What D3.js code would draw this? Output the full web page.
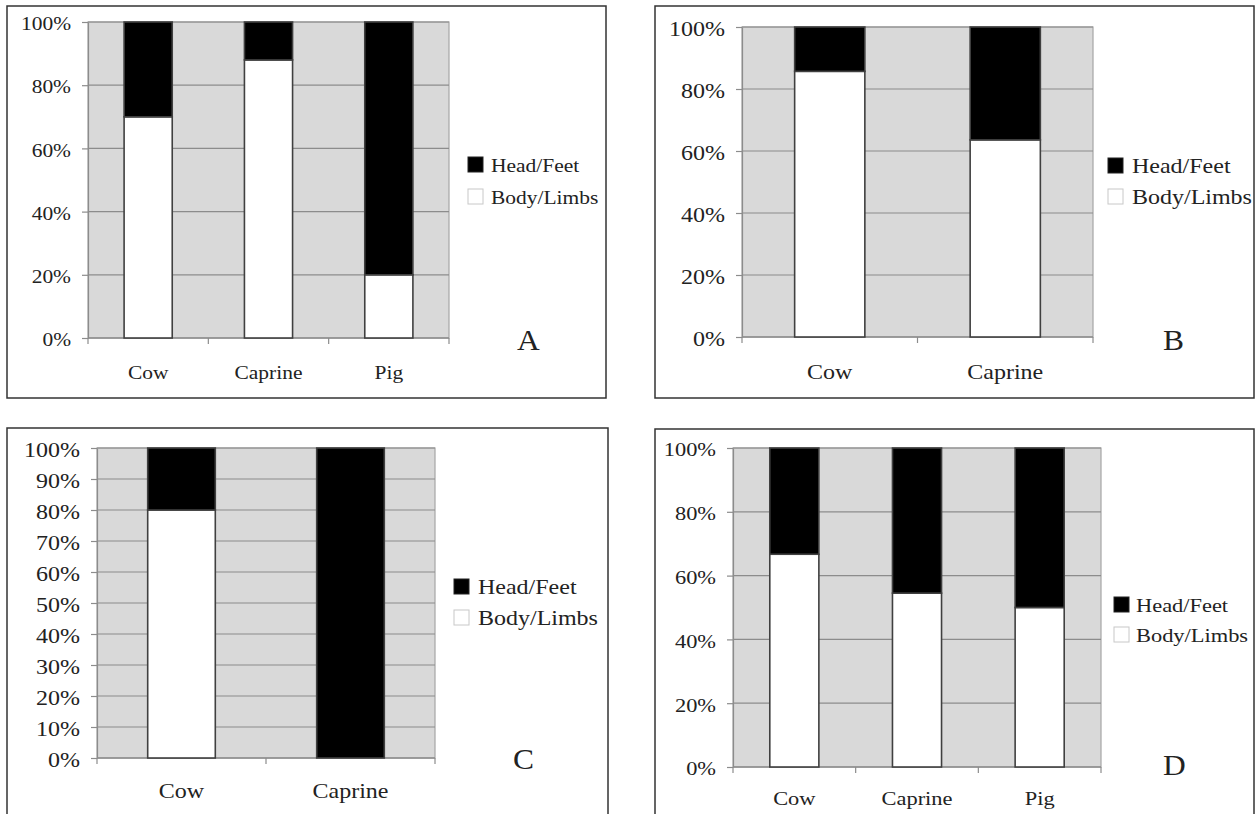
<!DOCTYPE html>
<html>
<head>
<meta charset="utf-8">
<script src="https://cdn.jsdelivr.net/npm/d3@7/dist/d3.min.js"></script>
<style>
  html, body { margin: 0; padding: 0; background: #fff; }
  svg { display: block; }
  text { font-family: "Liberation Serif", "Times New Roman", serif; fill: #222; }
</style>
</head>
<body>
<svg id="chart" width="1256" height="814"></svg>
<script>
// ---------------- data ----------------
const seriesNames = ["Head/Feet", "Body/Limbs"];
const panelLetters = ["A", "B", "C", "D"];

const categoriesA = ["Cow", "Caprine", "Pig"];
const bodyA = [70, 88, 20];
const headA = [30, 12, 80];

const categoriesB = ["Cow", "Caprine"];
const bodyB = [85.7, 63.6];
const headB = [14.3, 36.4];

const categoriesC = ["Cow", "Caprine"];
const bodyC = [80, 0];
const headC = [20, 100];

const categoriesD = ["Cow", "Caprine", "Pig"];
const bodyD = [66.7, 54.5, 50];
const headD = [33.3, 45.5, 50];

const ticks20 = [0, 20, 40, 60, 80, 100];
const ticks10 = [0, 10, 20, 30, 40, 50, 60, 70, 80, 90, 100];

// ---------------- layout ----------------
const panels = [
  { letter: panelLetters[0], cats: categoriesA, body: bodyA, head: headA, ticks: ticks20,
    frame: [7, 6, 606, 398], plot: [88, 22, 449, 338], fs: 19, sx: 1.13,
    xLabelY: 379, legX: 468, legY: 157, legGap: 32, legTextX: 491, letterX: 517, letterY: 350 },
  { letter: panelLetters[1], cats: categoriesB, body: bodyB, head: headB, ticks: ticks20,
    frame: [655, 6, 1254, 398], plot: [742, 27, 1093, 337], fs: 20, sx: 1.2,
    xLabelY: 379, legX: 1108, legY: 158, legGap: 31, legTextX: 1132, letterX: 1163, letterY: 350 },
  { letter: panelLetters[2], cats: categoriesC, body: bodyC, head: headC, ticks: ticks10,
    frame: [7, 428, 608, 830], plot: [97, 448, 435, 758], fs: 20, sx: 1.2,
    xLabelY: 798, legX: 454, legY: 579, legGap: 31, legTextX: 478, letterX: 513, letterY: 769 },
  { letter: panelLetters[3], cats: categoriesD, body: bodyD, head: headD, ticks: ticks20,
    frame: [655, 429, 1254, 830], plot: [733, 448, 1101, 767], fs: 19.5, sx: 1.15,
    xLabelY: 805, legX: 1114, legY: 597, legGap: 30, legTextX: 1136, letterX: 1163, letterY: 775 }
];

const svg = d3.select("#chart");

function scaledText(g, x, y, str, opts) {
  const t = g.append("g").attr("transform", `translate(${x},${y}) scale(${opts.sx},1)`)
    .append("text")
    .attr("x", 0).attr("y", 0)
    .attr("text-anchor", opts.anchor || "start")
    .style("font-size", opts.fs + "px")
    .text(str);
  if (opts.baseline) t.attr("dominant-baseline", opts.baseline);
  return t;
}

panels.forEach(p => {
  const g = svg.append("g");
  const [fx0, fy0, fx1, fy1] = p.frame;
  const [px0, py0, px1, py1] = p.plot;

  // outer frame
  g.append("rect")
    .attr("x", fx0).attr("y", fy0)
    .attr("width", fx1 - fx0).attr("height", fy1 - fy0)
    .attr("fill", "#fff").attr("stroke", "#333").attr("stroke-width", 1.5);

  const x = d3.scaleBand().domain(p.cats).range([px0, px1]).paddingInner(0.6).paddingOuter(0.3);
  const y = d3.scaleLinear().domain([0, 100]).range([py1, py0]);

  // plot background
  g.append("rect")
    .attr("x", px0).attr("y", py0)
    .attr("width", px1 - px0).attr("height", py1 - py0)
    .attr("fill", "#d9d9d9").attr("stroke", "#a6a6a6").attr("stroke-width", 1.2);

  // gridlines
  g.append("g").selectAll("line").data(p.ticks.filter(t => t > 0)).join("line")
    .attr("x1", px0).attr("x2", px1)
    .attr("y1", d => y(d)).attr("y2", d => y(d))
    .attr("stroke", "#8c8c8c").attr("stroke-width", 1.2);

  // y axis
  const yAxis = g.append("g").attr("transform", `translate(${px0},0)`)
    .call(d3.axisLeft(y).tickValues(p.ticks).tickSize(6).tickSizeOuter(0).tickFormat(d => d + "%"));
  yAxis.select(".domain").attr("stroke", "#8c8c8c").attr("stroke-width", 1.2);
  yAxis.selectAll(".tick line").attr("stroke", "#8c8c8c").attr("stroke-width", 1.2);
  yAxis.selectAll(".tick text")
    .attr("x", -(px0 - (p.plot[0] - 17)) / p.sx)
    .attr("dy", "0.4em")
    .attr("transform", `scale(${p.sx},1)`)
    .style("font-size", p.fs + "px")
    .style("font-family", '"Liberation Serif", "Times New Roman", serif')
    .attr("fill", "#222");

  // x axis line with boundary ticks
  g.append("line").attr("x1", px0).attr("x2", px1).attr("y1", py1).attr("y2", py1)
    .attr("stroke", "#8c8c8c").attr("stroke-width", 1.4);
  const step = x.step();
  const bounds = d3.range(p.cats.length + 1).map(i => px0 + i * step);
  g.append("g").selectAll("line").data(bounds).join("line")
    .attr("x1", d => d).attr("x2", d => d)
    .attr("y1", py1).attr("y2", py1 + 6)
    .attr("stroke", "#8c8c8c").attr("stroke-width", 1.2);

  // stacked bars
  const rows = p.cats.map((c, i) => ({ cat: c, body: p.body[i], head: p.head[i] }));
  const stacked = d3.stack().keys(["body", "head"])(rows);
  const fills = { body: "#ffffff", head: "#000000" };
  stacked.forEach(layer => {
    g.append("g").selectAll("rect").data(layer).join("rect")
      .attr("x", d => x(d.data.cat))
      .attr("width", x.bandwidth())
      .attr("y", d => y(d[1]))
      .attr("height", d => y(d[0]) - y(d[1]))
      .attr("fill", fills[layer.key])
      .attr("stroke", "#404040").attr("stroke-width", 1.6);
  });

  // x labels
  p.cats.forEach(c => {
    scaledText(g, x(c) + x.bandwidth() / 2, p.xLabelY, c, { sx: p.sx, fs: p.fs, anchor: "middle" });
  });

  // legend
  const legendFills = ["#000", "#fff"];
  const legendStrokes = ["#222", "#c8c8c8"];
  seriesNames.forEach((name, i) => {
    const ly = p.legY + i * p.legGap;
    g.append("rect").attr("x", p.legX).attr("y", ly).attr("width", 15).attr("height", 15)
      .attr("fill", legendFills[i]).attr("stroke", legendStrokes[i]).attr("stroke-width", 1);
    scaledText(g, p.legTextX, ly + 14.5, name, { sx: p.sx, fs: p.fs, anchor: "start" });
  });

  // panel letter
  scaledText(g, p.letterX, p.letterY, p.letter, { sx: 1.05, fs: 30, anchor: "start" });
});
</script>
</body>
</html>
